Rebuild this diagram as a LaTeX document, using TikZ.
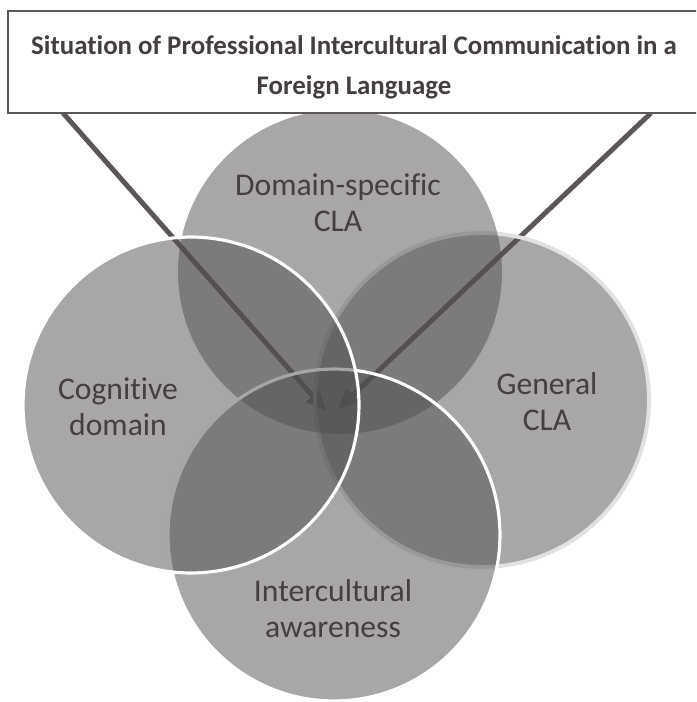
\documentclass[tikz,border=0pt]{standalone}
\usepackage{fontspec}
\setmainfont{Carlito}[Ligatures=NoCommon]
\usetikzlibrary{arrows.meta}

\definecolor{vennfill}{RGB}{81,78,81}
\definecolor{labelgray}{RGB}{68,62,66}
\definecolor{arrowgray}{RGB}{92,86,90}
\definecolor{rimgray}{RGB}{226,225,226}

\begin{document}
\begin{tikzpicture}[x=0.02cm,y=-0.02cm,
  venn/.style={circle,inner sep=0pt,fill=vennfill,fill opacity=0.5},
  vennlabel/.style={text=labelgray,align=center,font=\fontsize{18}{20.5}\selectfont},
  pointer/.style={arrowgray,line width=2.8pt,-{Triangle[length=0.4cm,width=0.34cm]}},
  titlebox/.style={draw=arrowgray,line width=0.9pt,fill=white,
    minimum width=13.84cm,minimum height=2.04cm},
  titletext/.style={align=center,text=labelgray,
    font=\bfseries\fontsize{15.3}{22.5}\selectfont}]
\useasboundingbox (0,0) rectangle (696,702);
\clip (0,0) rectangle (696,702);
% arrow ends
\coordinate (startL) at (63,113);
\coordinate (startR) at (651,113);
\coordinate (tipL) at (326,411);
\coordinate (tipR) at (338,409);
\draw[pointer] (startL) -- (tipL);
\draw[pointer] (startR) -- (tipR);
% circles
\node[venn,draw=rimgray,line width=2.2pt,minimum size=6.68cm] (general) at (482,400) {};
\node[venn,minimum size=6.48cm] (domain) at (340,272) {};
\node[venn,draw=white,line width=1.8pt,minimum size=6.64cm] (aware) at (334,535) {};
\node[venn,draw=white,line width=1.8pt,minimum size=6.72cm] (cogn) at (191,405) {};
% labels
\node[vennlabel] (domainlabel) at (338,203) {Domain-specific\\CLA};
\node[vennlabel] (cognlabel) at (118,407) {Cognitive\\domain};
\node[vennlabel] (generallabel) at (547,402) {General\\CLA};
\node[vennlabel] (awarelabel) at (333,609) {Intercultural\\awareness};
% title
\node[titlebox] (title) at (354,62) {};
\node[titletext] (titlelabel) at (title.center) [yshift=-0.11cm]
  {Situation of Professional Intercultural Communication in a\\Foreign Language};
\end{tikzpicture}
\end{document}
